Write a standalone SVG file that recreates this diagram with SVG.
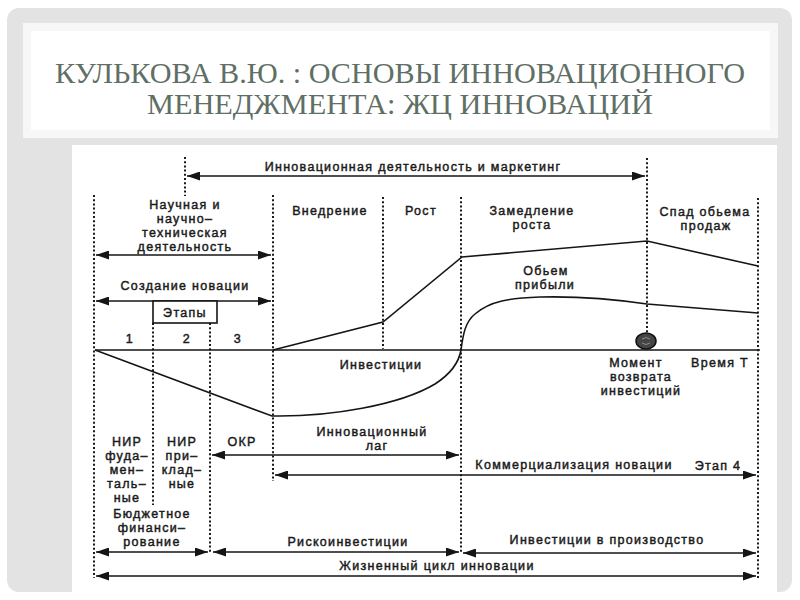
<svg xmlns="http://www.w3.org/2000/svg" width="800" height="600" viewBox="0 0 800 600">
<defs>
<marker id="ah" viewBox="0 0 13 9" refX="13" refY="4.5" markerWidth="13" markerHeight="9" orient="auto-start-reverse" markerUnits="userSpaceOnUse"><path d="M0,0 L13,4.5 L0,9 z" fill="#151515"/></marker>
<style>
.ttl{font-size:30px;fill:#5f6f66;text-anchor:middle}
.t{font-family:'Liberation Sans',Arial,sans-serif;font-size:12.5px;letter-spacing:1.3px;fill:#1a1a1a;stroke:#1a1a1a;stroke-width:0.45;text-anchor:middle}
.dot{stroke:#1a1a1a;stroke-width:2;stroke-dasharray:2 2.2;fill:none}
.ln{stroke:#151515;stroke-width:1.6;fill:none}
.ar2{stroke:#151515;stroke-width:1.6;fill:none;marker-start:url(#ah);marker-end:url(#ah)}
</style>
</defs>
<rect x="0" y="0" width="800" height="600" fill="#ffffff"/>
<rect x="7" y="8" width="785" height="584" rx="12" fill="#e3e3e3"/>
<rect x="23" y="23" width="755" height="115" fill="#f7f7f7"/>
<rect x="31" y="31" width="739" height="99" fill="#ffffff"/>
<rect x="72" y="145" width="705" height="455" fill="#ffffff"/>
<g id="title">
<text class="ttl" style="font-family:'Liberation Serif',serif" x="400" y="83" textLength="690" lengthAdjust="spacingAndGlyphs">КУЛЬКОВА В.Ю. : ОСНОВЫ ИННОВАЦИОННОГО</text>
<text class="ttl" style="font-family:'Liberation Serif',serif" x="400" y="114" textLength="506" lengthAdjust="spacingAndGlyphs">МЕНЕДЖМЕНТА: ЖЦ ИННОВАЦИЙ</text>
</g>
<g id="grid">
<line class="dot" x1="185" y1="157" x2="185" y2="196"/>
<line class="dot" x1="647" y1="158" x2="647" y2="333"/>
<line class="dot" x1="94" y1="195" x2="94" y2="578"/>
<line class="dot" x1="273" y1="195" x2="273" y2="481"/>
<line class="dot" x1="383" y1="197" x2="383" y2="349"/>
<line class="dot" x1="461" y1="197" x2="461" y2="553"/>
<line class="dot" x1="758" y1="198" x2="758" y2="579"/>
<line class="dot" x1="153" y1="323" x2="153" y2="505"/>
<line class="dot" x1="210" y1="323" x2="210" y2="552"/>
</g>
<g id="connectors">
<line class="ar2" x1="187" y1="176" x2="645" y2="176"/>
<line class="ar2" x1="96" y1="255" x2="271" y2="255"/>
<line class="ar2" x1="96" y1="301" x2="271" y2="301"/>
<line class="ar2" x1="212" y1="455" x2="459" y2="455"/>
<line class="ar2" x1="275" y1="475" x2="756" y2="475"/>
<line class="ar2" x1="96" y1="552" x2="208" y2="552"/>
<line class="ar2" x1="213" y1="552" x2="459" y2="552"/>
<line class="ar2" x1="463" y1="553" x2="756" y2="553"/>
<line class="ar2" x1="96" y1="576" x2="756" y2="576"/>
</g>
<g id="chart">
<line class="ln" x1="95" y1="350" x2="760" y2="350"/>
<polyline class="ln" points="273,350 383,322 462,257 647,241 758,266"/>
<path class="ln" d="M95,350 L272,416 C330,417 400,405 435,384 C452,373 459,362 461,350 C463,335 465,322 475,314 C490,301 510,298 540,297 C580,296 620,300 647,304 L758,313"/>
<ellipse cx="646" cy="341" rx="10" ry="8" fill="#454545" stroke="#111" stroke-width="1.5"/>
<path d="M642,339 q4,-3 8,0 M642,343 q4,3 8,0" stroke="#8a8a8a" stroke-width="1" fill="none"/>
</g>
<g id="stages">
<rect x="153" y="301" width="64" height="22" fill="#fff" stroke="#151515" stroke-width="1.6"/>
<text class="t" x="185" y="316.5">Этапы</text>
<text class="t" x="130" y="343">1</text>
<text class="t" x="187" y="343">2</text>
<text class="t" x="238" y="343">3</text>
</g>
<g id="labels">
<text class="t" x="413" y="171">Инновационная деятельность и маркетинг</text>
<text class="t" x="185" y="209">Научная и</text>
<text class="t" x="185" y="223">научно–</text>
<text class="t" x="185" y="237">техническая</text>
<text class="t" x="185" y="251">деятельность</text>
<text class="t" x="185" y="290">Создание новации</text>
<text class="t" x="330" y="215">Внедрение</text>
<text class="t" x="421" y="215">Рост</text>
<text class="t" x="532" y="215">Замедление</text>
<text class="t" x="532" y="229">роста</text>
<text class="t" x="705" y="216">Спад обьема</text>
<text class="t" x="706" y="230">продаж</text>
<text class="t" x="546" y="275">Обьем</text>
<text class="t" x="545" y="289">прибыли</text>
<text class="t" x="381" y="369">Инвестиции</text>
<text class="t" x="636" y="367">Момент</text>
<text class="t" x="641" y="381">возврата</text>
<text class="t" x="641" y="395">инвестиций</text>
<text class="t" x="720" y="367">Время Т</text>
<text class="t" x="127" y="446">НИР</text>
<text class="t" x="127" y="460">фуда–</text>
<text class="t" x="127" y="474">мен–</text>
<text class="t" x="127" y="488">таль–</text>
<text class="t" x="127" y="502">ные</text>
<text class="t" x="182" y="446">НИР</text>
<text class="t" x="182" y="460">при–</text>
<text class="t" x="182" y="474">клад–</text>
<text class="t" x="182" y="488">ные</text>
<text class="t" x="242" y="446">ОКР</text>
<text class="t" x="372" y="436">Инновационный</text>
<text class="t" x="377" y="450">лаг</text>
<text class="t" x="574" y="469">Коммерциализация новации</text>
<text class="t" x="718" y="470">Этап 4</text>
<text class="t" x="152" y="518">Бюджетное</text>
<text class="t" x="152" y="532">финанси–</text>
<text class="t" x="152" y="546">рование</text>
<text class="t" x="348" y="546">Рискоинвестиции</text>
<text class="t" x="607" y="544">Инвестиции в производство</text>
<text class="t" x="437" y="570">Жизненный цикл инновации</text>
</g>
</svg>
